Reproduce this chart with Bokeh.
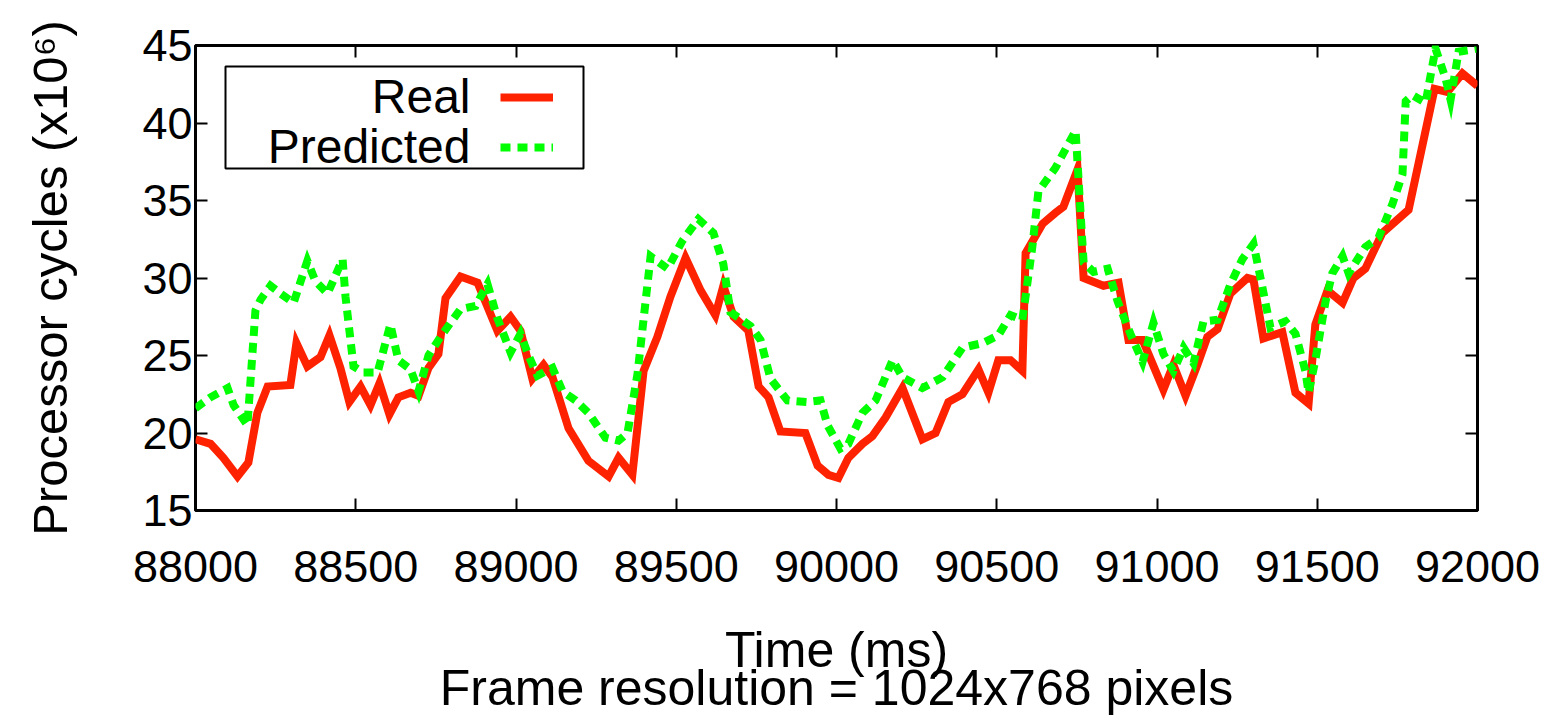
from bokeh.plotting import figure
from bokeh.models import (Range1d, FixedTicker, LinearAxis, BoxAnnotation, Label,
                          Legend, LegendItem, CustomJSTickFormatter, BasicTickFormatter)
from bokeh.core.properties import value
from bokeh.embed import file_html
from bokeh.resources import INLINE

# ---- data (time in ms, processor cycles x10^6) ----
real_t = [88000, 88047, 88087, 88131, 88165, 88193, 88225, 88296, 88315, 88349,
          88390, 88418, 88452, 88480, 88515, 88546, 88574, 88605, 88633, 88671,
          88696, 88727, 88758, 88780, 88827, 88880, 88942, 88983, 89014, 89051,
          89086, 89114, 89164, 89226, 89289, 89320, 89363, 89398, 89441, 89482,
          89529, 89576, 89622, 89647, 89679, 89725, 89757, 89788, 89825, 89903,
          89941, 89975, 90006, 90037, 90081, 90112, 90153, 90206, 90268, 90309,
          90349, 90393, 90443, 90474, 90505, 90543, 90580, 90590, 90643, 90683,
          90708, 90752, 90771, 90833, 90880, 90911, 90955, 91020, 91051, 91089,
          91126, 91157, 91189, 91229, 91282, 91301, 91332, 91391, 91432, 91473,
          91494, 91532, 91579, 91613, 91650, 91703, 91785, 91866, 91906, 91953,
          92000]
real_v = [19.6, 19.3, 18.4, 17.2, 18.1, 21.3, 23.0, 23.1, 25.8, 24.3,
          24.9, 26.3, 24.2, 22.0, 23.0, 21.8, 23.2, 21.2, 22.3, 22.6,
          22.4, 24.2, 25.1, 28.7, 30.1, 29.7, 26.6, 27.5, 26.6, 23.5,
          24.4, 23.6, 20.3, 18.2, 17.2, 18.4, 17.3, 24.0, 26.2, 28.8,
          31.3, 29.2, 27.6, 29.5, 27.5, 26.6, 23.0, 22.3, 20.1, 20.0,
          17.9, 17.3, 17.1, 18.4, 19.3, 19.8, 21.0, 22.9, 19.6, 20.0,
          22.0, 22.5, 24.1, 22.6, 24.7, 24.7, 24.0, 31.6, 33.5, 34.2,
          34.6, 37.0, 30.0, 29.5, 29.7, 26.0, 26.0, 22.8, 24.4, 22.4,
          24.4, 26.2, 26.7, 29.0, 30.0, 29.9, 26.1, 26.5, 22.6, 21.9,
          27.0, 29.2, 28.4, 30.0, 30.6, 32.9, 34.4, 42.2, 42.0, 43.2,
          42.4]

pred_t = [88000, 88047, 88100, 88119, 88162, 88187, 88203, 88234, 88265, 88306,
          88349, 88374, 88412, 88459, 88468, 88493, 88524, 88568, 88608, 88633,
          88671, 88696, 88727, 88771, 88827, 88874, 88911, 88942, 88983, 89014,
          89039, 89067, 89114, 89145, 89186, 89226, 89279, 89320, 89348, 89379,
          89420, 89473, 89519, 89569, 89616, 89647, 89669, 89732, 89763, 89794,
          89847, 89909, 89950, 89972, 90012, 90037, 90081, 90122, 90175, 90206,
          90268, 90331, 90393, 90456, 90505, 90543, 90580, 90611, 90630, 90683,
          90746, 90771, 90802, 90846, 90877, 90917, 90955, 90989, 91020, 91051,
          91083, 91114, 91145, 91189, 91229, 91266, 91301, 91323, 91354, 91401,
          91432, 91463, 91473, 91494, 91526, 91547, 91579, 91598, 91650, 91691,
          91735, 91766, 91776, 91797, 91838, 91869, 91900, 91916, 91941, 92000]
pred_v = [21.6, 22.3, 22.9, 21.8, 20.5, 27.9, 28.6, 29.5, 29.0, 28.4,
          31.1, 29.8, 29.0, 31.2, 28.8, 24.3, 23.9, 23.9, 27.0, 24.7,
          24.1, 22.7, 25.0, 26.4, 28.0, 28.2, 29.6, 27.4, 25.2, 26.4,
          25.0, 23.7, 24.2, 22.7, 22.1, 21.3, 19.7, 19.5, 20.0, 23.8,
          31.4, 30.6, 32.4, 33.8, 32.9, 30.9, 27.8, 26.9, 26.0, 23.5,
          22.1, 22.0, 22.1, 20.5, 19.0, 19.3, 21.3, 22.1, 24.7, 23.6,
          22.9, 23.6, 25.5, 25.8, 26.3, 27.6, 27.3, 32.0, 35.6, 37.1,
          39.5, 31.0, 30.4, 30.6, 28.5, 26.4, 24.6, 27.1, 25.1, 24.0,
          25.5, 24.5, 27.2, 27.3, 29.6, 31.2, 32.2, 30.0, 26.8, 27.2,
          26.4, 24.0, 22.6, 24.7, 28.5, 30.3, 31.4, 30.3, 32.0, 32.6,
          34.8, 36.7, 41.4, 41.8, 41.3, 44.8, 42.9, 41.5, 44.6, 44.8]

x_ticks = [88000, 88500, 89000, 89500, 90000, 90500, 91000, 91500, 92000]
y_ticks = [15, 20, 25, 30, 35, 40, 45]

series_names = ["Real", "Predicted"]
x_title = "Time (ms)\nFrame resolution = 1024x768 pixels"
y_title = "Processor cycles (x10\u2076)"

FONT = "Liberation Sans"
RED = "#ff2200"
GREEN = "#00ff00"

p = figure(width=1548, height=720,
           x_range=Range1d(88000, 92000), y_range=Range1d(15, 45),
           output_backend="svg", toolbar_location=None,
           min_border_left=195, min_border_right=71,
           min_border_top=45, min_border_bottom=210)
p.grid.visible = False
p.outline_line_color = "black"
p.outline_line_width = 3
p.background_fill_color = "white"
p.border_fill_color = "white"

r_real = p.line(real_t, real_v, line_color=RED, line_width=8, line_join="miter")
r_pred = p.line(pred_t, pred_v, line_color=GREEN, line_width=8,
                line_dash="10 7", line_join="miter")


def style_axis(ax):
    ax.major_tick_in = 12
    ax.major_tick_out = 0
    ax.major_tick_line_width = 2
    ax.major_tick_line_color = "black"
    ax.minor_tick_line_color = None
    ax.axis_line_color = None
    ax.major_label_text_font = FONT
    ax.major_label_text_color = "black"
    ax.axis_label_text_font = FONT
    ax.axis_label_text_font_style = "normal"
    ax.axis_label_text_color = "black"


xa = p.xaxis[0]
style_axis(xa)
xa.ticker = FixedTicker(ticks=x_ticks)
xa.formatter = BasicTickFormatter(use_scientific=False)
xa.major_label_text_font_size = "45px"
xa.major_label_standoff = 40
xa.axis_label = x_title
xa.axis_label_text_font_size = "50px"
xa.axis_label_text_line_height = 0.68
xa.axis_label_standoff = 37

ya = p.yaxis[0]
style_axis(ya)
ya.ticker = FixedTicker(ticks=y_ticks)
ya.major_label_text_font_size = "45px"
ya.major_label_standoff = 3
ya.axis_label = y_title
ya.axis_label_text_font_size = "49px"
ya.axis_label_standoff = 62

blank = "return ''"
top = LinearAxis(ticker=FixedTicker(ticks=x_ticks),
                 formatter=CustomJSTickFormatter(code=blank))
style_axis(top)
top.major_label_standoff = 0
p.add_layout(top, "above")

right = LinearAxis(ticker=FixedTicker(ticks=y_ticks),
                   formatter=CustomJSTickFormatter(code=blank))
style_axis(right)
right.major_label_standoff = 0
p.add_layout(right, "right")

# legend box (gnuplot style: label text on the left, sample on the right)
box = BoxAnnotation(left=30, right=388, top=444, bottom=342,
                    left_units="screen", right_units="screen",
                    top_units="screen", bottom_units="screen",
                    fill_color="white", fill_alpha=1.0,
                    line_color="black", line_alpha=1.0, line_width=2)
p.add_layout(box)

legend = Legend(items=[LegendItem(label=value(" "), renderers=[r_real]),
                       LegendItem(label=value(" "), renderers=[r_pred])],
                location=(305, 338), glyph_width=53, glyph_height=50,
                spacing=0, padding=0, margin=0, label_standoff=0,
                label_width=0, label_height=50, label_text_font_size="8px",
                border_line_color=None, background_fill_alpha=0)
p.add_layout(legend)

for txt, yb in zip(series_names, [414, 364]):
    p.add_layout(Label(x=275, y=yb, x_units="screen", y_units="screen",
                       text=txt, text_align="right", text_baseline="alphabetic",
                       text_font=FONT, text_font_size="48px", text_color="black"))

open("out.html", "w").write(file_html(p, INLINE))
